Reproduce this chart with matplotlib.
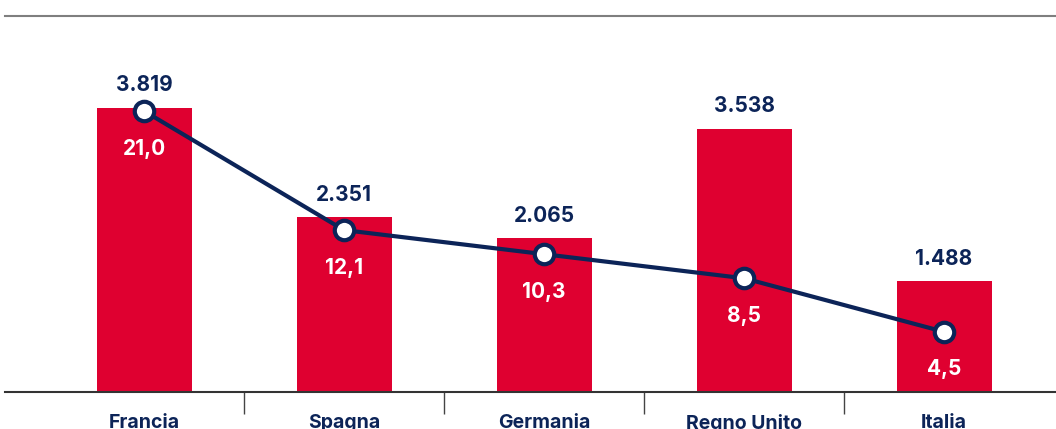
import matplotlib.pyplot as plt
import numpy as np

# data
paesi = ["Francia", "Spagna", "Germania", "Regno Unito", "Italia"]
valori_barre = [3819, 2351, 2065, 3538, 1488]
etichette_barre = ["3.819", "2.351", "2.065", "3.538", "1.488"]
valori_linea = [21.0, 12.1, 10.3, 8.5, 4.5]
etichette_linea = ["21,0", "12,1", "10,3", "8,5", "4,5"]

ROSSO = "#df0030"
BLU = "#0c2458"

plt.rcParams["font.family"] = ["Inter", "DejaVu Sans"]

fig = plt.figure(figsize=(10.56, 4.29), dpi=100)
ax = fig.add_axes([5 / 1056, 37 / 429, 1 - 5 / 1056, 376 / 429])
x = np.arange(len(paesi))

ax.bar(x, valori_barre, width=0.475, color=ROSSO, zorder=2)
ax.set_ylim(0, 5056)
ax.set_xlim(-0.695, 4.56)

for xi, v, lab in zip(x, valori_barre, etichette_barre):
    ax.annotate(lab, (xi, v), xytext=(0, 9), textcoords="offset points",
                ha="center", va="bottom", fontsize=15, fontweight="bold", color=BLU)

ax2 = ax.twinx()
ax2.set_ylim(0, 28.1)
ax2.plot(x, valori_linea, color=BLU, lw=3, marker="o", markersize=14,
         markerfacecolor="white", markeredgecolor=BLU, markeredgewidth=3, zorder=3)
for xi, v, lab in zip(x, valori_linea, etichette_linea):
    ax2.annotate(lab, (xi, v), xytext=(0, -27), textcoords="offset points",
                 ha="center", va="center", fontsize=15, fontweight="bold", color="white")

for a in (ax, ax2):
    a.spines["left"].set_visible(False)
    a.spines["right"].set_visible(False)
    a.set_yticks([])
ax.spines["top"].set_color("#7f7f7f")
ax.spines["top"].set_linewidth(1.5)
ax2.spines["top"].set_visible(False)
ax2.spines["bottom"].set_visible(False)
ax.spines["bottom"].set_color("#333333")
ax.spines["bottom"].set_linewidth(1.5)

ax.set_xticks(x)
ax.set_xticklabels(paesi, fontsize=14, fontweight="bold", color=BLU)
ax.tick_params(axis="x", which="major", length=0, pad=16)
ax.set_xticks(x[:-1] + 0.5, minor=True)
ax.tick_params(axis="x", which="minor", length=16, width=1, color="#444444")

fig.savefig("out.png", dpi=100)
